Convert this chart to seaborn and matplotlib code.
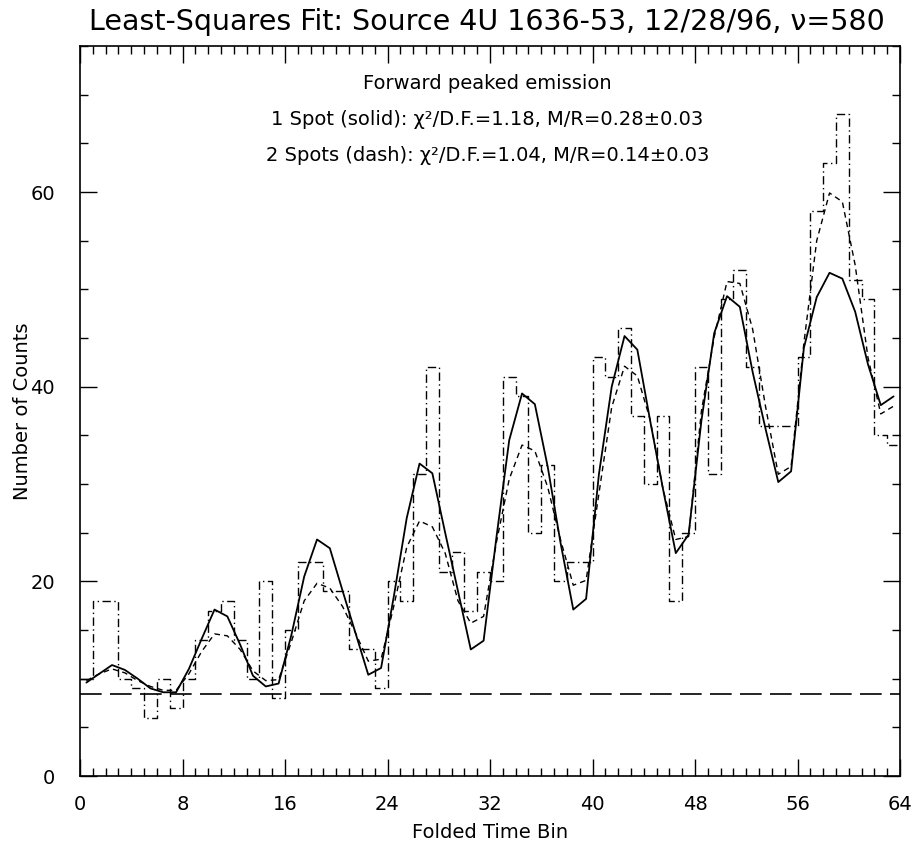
import numpy as np
import pandas as pd
import matplotlib
matplotlib.use("Agg")
import matplotlib.pyplot as plt
from matplotlib.ticker import MultipleLocator
import seaborn as sns

# ---- data ----
n_bins = 64
counts = [10, 18, 18, 10, 9, 6, 10, 7, 10, 14, 17, 18, 14, 10, 20, 8,
          15, 22, 22, 19, 19, 13, 13, 9, 20, 18, 31, 42, 21, 23, 17, 21,
          20, 41, 39, 25, 32, 20, 22, 22, 43, 41, 46, 37, 30, 37, 18, 25,
          42, 31, 49, 52, 42, 36, 36, 36, 43, 58, 63, 68, 51, 49, 35, 34]
fit_one_spot = [9.6, 10.5, 11.4, 10.9, 10.0, 9.0, 8.6, 8.6, 11.0, 14.1, 17.1, 16.4, 13.5, 10.3, 9.2, 9.5,
                14.5, 20.5, 24.3, 23.4, 19.0, 14.7, 10.4, 11.1, 18.5, 26.5, 32.1, 31.1, 25.0, 19.0, 13.0, 13.9,
                24.5, 34.5, 39.3, 38.2, 31.8, 24.0, 17.1, 18.2, 31.0, 40.0, 45.2, 43.8, 36.5, 29.5, 22.9, 24.8,
                36.5, 45.5, 49.3, 48.2, 41.5, 35.7, 30.2, 31.3, 44.0, 49.2, 51.7, 51.1, 47.7, 42.3, 38.1, 39.0]
fit_two_spots = [9.8, 10.5, 11.0, 10.6, 9.8, 9.2, 8.8, 8.8, 10.5, 12.8, 14.6, 14.4, 13.0, 10.8, 9.8, 9.9,
                 13.8, 18.0, 19.8, 19.3, 17.4, 14.7, 11.8, 12.0, 17.5, 23.5, 26.2, 25.6, 22.9, 18.0, 15.7, 16.4,
                 24.0, 30.5, 34.0, 33.4, 29.7, 24.3, 19.6, 20.1, 29.0, 37.9, 42.1, 41.1, 36.6, 29.5, 24.3, 24.6,
                 37.5, 45.1, 50.8, 50.6, 45.9, 38.0, 31.0, 31.8, 44.5, 55.0, 59.9, 59.0, 52.5, 43.0, 37.2, 38.0]
background_level = 8.4
title = "Least-Squares Fit: Source 4U 1636-53, 12/28/96, \u03bd=580"
annotation_lines = ["Forward peaked emission",
                    "1 Spot (solid): \u03c7\u00b2/D.F.=1.18, M/R=0.28\u00b10.03",
                    "2 Spots (dash): \u03c7\u00b2/D.F.=1.04, M/R=0.14\u00b10.03"]
annotation_y = [71.1, 67.4, 63.7]
x_label = "Folded Time Bin"
y_label = "Number of Counts"

bin_centers = np.arange(n_bins) + 0.5
df = pd.DataFrame({"bin": bin_centers, "counts": counts,
                   "one": fit_one_spot, "two": fit_two_spots})

sns.set_theme(style="white")
plt.rcParams["font.family"] = ["DejaVu Sans"]

fig = plt.figure(figsize=(9.15, 8.48), dpi=100)
ax = fig.add_axes([80 / 915, 72 / 848, 820 / 915, 730 / 848])

sns.histplot(data=df, x="bin", weights="counts", bins=n_bins, binrange=(0, n_bins),
             element="step", fill=False, color="black", linewidth=1.0,
             linestyle=(0, (6, 2.5, 1, 2.5)), ax=ax)
sns.lineplot(data=df, x="bin", y="one", color="black", linewidth=1.3, ax=ax)
sns.lineplot(data=df, x="bin", y="two", color="black", linewidth=1.0,
             linestyle=(0, (4, 3)), ax=ax)
ax.axhline(background_level, color="black", linewidth=1.2, linestyle=(0, (13, 5)))

ax.set_xlim(0, 64)
ax.set_ylim(0, 75)
ax.xaxis.set_major_locator(MultipleLocator(8))
ax.xaxis.set_minor_locator(MultipleLocator(1))
ax.yaxis.set_major_locator(MultipleLocator(20))
ax.yaxis.set_minor_locator(MultipleLocator(5))
ax.tick_params(which="both", direction="in", top=True, right=True, bottom=True, left=True,
               color="black", width=1.0, labelcolor="black")
ax.tick_params(which="major", length=12.5)
ax.tick_params(which="minor", length=5.5)
ax.tick_params(axis="x", labelsize=14, pad=14)
ax.tick_params(axis="y", labelsize=14, pad=18)
for s in ax.spines.values():
    s.set_color("black")
    s.set_linewidth(1.2)

ax.set_xlabel(x_label, fontsize=14, color="black", labelpad=6)
ax.set_ylabel(y_label, fontsize=14, color="black", va="center")
ax.yaxis.set_label_coords(-58 / 820, 0.5)

for txt, yy in zip(annotation_lines, annotation_y):
    ax.text(31.8, yy, txt, ha="center", va="center", fontsize=14, color="black")

fig.text(487 / 915, 1 - 22 / 848, title, ha="center", va="center", fontsize=20.5, color="black")

fig.savefig("out.png", dpi=100, facecolor="white")
